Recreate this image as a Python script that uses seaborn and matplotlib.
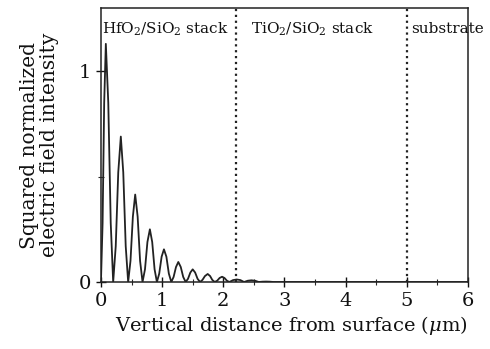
import numpy as np
import pandas as pd
import matplotlib
matplotlib.use("Agg")
import matplotlib.pyplot as plt
from matplotlib.ticker import MultipleLocator
import seaborn as sns

# distance from surface (um) and squared normalized field
depth = [0.00, 0.027, 0.053, 0.080, 0.120, 0.160, 0.200,
         0.242, 0.283, 0.325, 0.365, 0.405, 0.445,
         0.483, 0.522, 0.560, 0.600, 0.640, 0.680,
         0.720, 0.760, 0.800, 0.838, 0.877, 0.915,
         0.953, 0.992, 1.030, 1.070, 1.110, 1.150,
         1.188, 1.227, 1.265, 1.305, 1.345, 1.385,
         1.423, 1.462, 1.500, 1.540, 1.580, 1.620,
         1.660, 1.700, 1.745, 1.785, 1.820, 1.860,
         1.900, 1.940, 1.980, 2.020, 2.060, 2.100,
         2.160, 2.220, 2.280, 2.340,
         2.400, 2.460, 2.520, 2.580,
         2.640, 2.700, 2.760, 2.820, 6.000]
intensity = [0.00, 0.28, 0.85, 1.13, 0.85, 0.28, 0.00,
             0.17, 0.52, 0.69, 0.52, 0.17, 0.00,
             0.10, 0.31, 0.415, 0.31, 0.10, 0.00,
             0.06, 0.19, 0.25, 0.19, 0.06, 0.00,
             0.04, 0.12, 0.155, 0.12, 0.04, 0.00,
             0.024, 0.071, 0.095, 0.071, 0.024, 0.00,
             0.015, 0.045, 0.060, 0.045, 0.015, 0.00,
             0.010, 0.028, 0.038, 0.028, 0.010, 0.00,
             0.006, 0.019, 0.025, 0.019, 0.006, 0.00,
             0.009, 0.012, 0.009, 0.00,
             0.006, 0.008, 0.006, 0.00,
             0.0015, 0.002, 0.0015, 0.00, 0.00]

boundaries = [2.2, 5.0]
region_labels = ["HfO$_2$/SiO$_2$ stack", "TiO$_2$/SiO$_2$ stack", "substrate"]
label_x = [0.02, 2.45, 5.07]

df = pd.DataFrame({"depth": depth, "intensity": intensity})

sns.set_style("ticks")
plt.rcParams["font.family"] = ["DejaVu Serif"]
plt.rcParams["mathtext.fontset"] = "dejavuserif"

fig = plt.figure(figsize=(4.9, 3.49), dpi=100)
ax = fig.add_axes([0.206, 0.192, 0.749, 0.785])

sns.lineplot(data=df, x="depth", y="intensity", ax=ax, color="#222222",
             linewidth=1.3, sort=False, estimator=None)

for b in boundaries:
    ax.axvline(b, color="#222222", linestyle=":", linewidth=1.6)

for t, xx in zip(region_labels, label_x):
    ax.text(xx, 1.2, t, fontsize=11, va="center", ha="left", color="#111111")

ax.set_xlim(0, 6)
ax.set_ylim(0, 1.3)
ax.set_xticks(range(0, 7))
ax.set_yticks([0, 1])
ax.xaxis.set_minor_locator(MultipleLocator(0.5))
ax.yaxis.set_minor_locator(MultipleLocator(0.5))
ax.tick_params(which="major", direction="inout", length=7, width=1, labelsize=14, colors="#111111")
ax.tick_params(which="minor", direction="inout", length=4, width=0.8)
for s in ax.spines.values():
    s.set_linewidth(1.1)
    s.set_color("#222222")

ax.set_xlabel("Vertical distance from surface ($\\mu$m)", fontsize=14, color="#111111", labelpad=3)
ax.xaxis.label.set_x(0.52)
ax.set_ylabel("Squared normalized\nelectric field intensity", fontsize=14.5, color="#111111",
              labelpad=14, linespacing=1.1)

fig.savefig("out.png", dpi=100)
